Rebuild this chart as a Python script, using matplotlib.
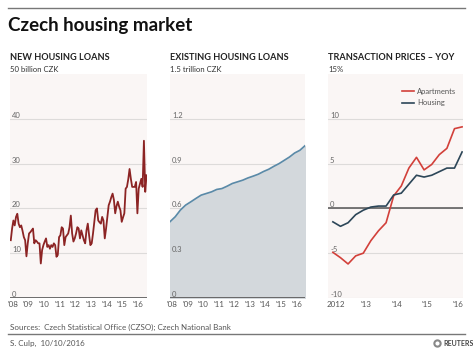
import numpy as np
import matplotlib
matplotlib.use("Agg")
import matplotlib.pyplot as plt
from matplotlib.lines import Line2D
from matplotlib.transforms import blended_transform_factory

plt.rcParams['font.family'] = ['Lato', 'DejaVu Sans']

# New housing loans, monthly Jan 2008 - Sep 2016 (billion CZK)
new_loans = [
    12.9, 15.5, 17.3, 16.2, 18.1, 18.8, 16.6, 15.8, 16.2, 15.0, 13.6, 12.9,
    9.3, 12.2, 14.4, 14.7, 15.1, 15.5, 12.2, 12.9, 12.6, 12.2, 12.2, 7.7,
    10.7, 11.8, 12.6, 13.3, 11.4, 11.8, 11.0, 11.8, 11.4, 12.2, 11.8, 9.2,
    9.6, 13.6, 14.0, 15.8, 15.5, 11.8, 13.6, 14.0, 14.4, 15.8, 18.4, 14.4,
    12.6, 13.3, 14.4, 15.8, 15.5, 13.3, 15.1, 14.0, 12.9, 12.2, 15.1, 16.6,
    14.0, 11.8, 12.2, 14.4, 17.0, 19.6, 20.0, 17.3, 16.9, 16.6, 18.1, 17.3,
    13.3, 15.5, 18.1, 20.7, 21.5, 22.5, 23.3, 21.9, 18.9, 20.5, 21.5, 20.4,
    19.6, 17.0, 18.0, 18.9, 24.4, 24.8, 26.5, 28.8, 26.6, 24.8, 24.8, 24.8,
    25.9, 18.9, 24.4, 25.5, 26.6, 24.8, 35.1, 23.7, 27.4,
]
new_years = 2008 + np.arange(len(new_loans)) / 12

# Existing housing loans, every 4 months from Jan 2008 (trillion CZK)
existing_loans = [
    0.511, 0.544, 0.589, 0.622, 0.644, 0.667, 0.689, 0.700, 0.711, 0.727,
    0.733, 0.749, 0.767, 0.778, 0.789, 0.804, 0.816, 0.829, 0.847, 0.862,
    0.882, 0.900, 0.922, 0.944, 0.971, 0.989, 1.020,
]
existing_years = 2008 + np.arange(len(existing_loans)) / 3

# Transaction prices, y/y %, quarterly from Q1 2012
apartments = [-4.9, -5.5, -6.2, -5.3, -5.0, -3.6, -2.5, -1.6, 1.4, 2.5,
              4.5, 5.7, 4.3, 4.9, 6.0, 6.7, 8.9, 9.1]
housing = [-1.5, -2.0, -1.6, -0.7, -0.2, 0.15, 0.26, 0.26, 1.5, 1.7,
           2.7, 3.7, 3.5, 3.7, 4.1, 4.5, 4.5, 6.3]
price_years = 2012 + np.arange(len(apartments)) / 4

year_labels = ["'08", "'09", "'10", "'11", "'12", "'13", "'14", "'15", "'16"]
price_labels = ["2012", "'13", "'14", "'15", "'16"]

BG = '#faf6f5'
GRID = '#dddbda'
TXT = '#666666'

W, H = 473, 355
fig = plt.figure(figsize=(W / 100, H / 100), dpi=100)


def px(x, y):
    return x / W, 1 - y / H


def setup(ax, ticks, labels):
    ax.set_facecolor(BG)
    for s in ax.spines.values():
        s.set_visible(False)
    ax.set_yticks([])
    tr = blended_transform_factory(ax.transAxes, ax.transData)
    for t, lab in zip(ticks, labels):
        ax.axhline(t, color=GRID, lw=0.8, zorder=1)
        ax.text(0.015, t, lab, transform=tr, fontsize=5.5, color=TXT,
                va='bottom', ha='left', zorder=5)
    ax.tick_params(axis='x', length=0, labelsize=5.8, labelcolor='#555555', pad=2)


# panel 1
ax1 = fig.add_axes([10 / W, 1 - 298 / H, 137 / W, 224 / H])
setup(ax1, [0, 10, 20, 30, 40], ['0', '10', '20', '30', '40'])
ax1.plot(new_years, new_loans, color='#8c2424', lw=1.3, zorder=3)
ax1.set_ylim(0, 50)
ax1.set_xlim(2007.95, new_years[-1] + 0.03)
ax1.axhline(0, color='#555555', lw=1.2, zorder=4)
ax1.set_xticks(np.arange(2008, 2017) + 0.12)
ax1.set_xticklabels(year_labels)

# panel 2
ax2 = fig.add_axes([170 / W, 1 - 298 / H, 135 / W, 224 / H])
setup(ax2, [0, 0.3, 0.6, 0.9, 1.2], ['0', '0.3', '0.6', '0.9', '1.2'])
ax2.fill_between(existing_years, existing_loans, color='#d3d8dc', zorder=2)
ax2.plot(existing_years, existing_loans, color='#5a8aa8', lw=1.2, zorder=3)
ax2.set_ylim(0, 1.5)
ax2.set_xlim(2008, existing_years[-1])
ax2.axhline(0, color='#555555', lw=1.2, zorder=4)
ax2.set_xticks(np.arange(2008, 2017) + 0.12)
ax2.set_xticklabels(year_labels)

# panel 3
ax3 = fig.add_axes([328 / W, 1 - 298 / H, 135 / W, 224 / H])
setup(ax3, [-10, -5, 0, 5, 10], ['-10', '-5', '0', '5', '10'])
ax3.plot(price_years, apartments, color='#d2403a', lw=1.2, zorder=3, label='Apartments')
ax3.plot(price_years, housing, color='#2c4658', lw=1.2, zorder=3, label='Housing')
ax3.axhline(0, color='#606060', lw=1.2, zorder=2)
ax3.set_ylim(-10, 15)
ax3.set_xlim(2011.84, 2016.28)
ax3.set_xticks(np.arange(2012, 2017) + 0.1)
ax3.set_xticklabels(price_labels)
leg = ax3.legend(loc='upper right', frameon=False, fontsize=5.5, handlelength=1.6,
                 handletextpad=0.4, labelspacing=0.6, bbox_to_anchor=(1.0, 0.97))
for t in leg.get_texts():
    t.set_color('#555555')

# headers
heads = [(10, 'NEW HOUSING LOANS', '50 billion CZK'),
         (170, 'EXISTING HOUSING LOANS', '1.5 trillion CZK'),
         (328, 'TRANSACTION PRICES \u2013 YOY', '15%')]
for x, h, sub in heads:
    fig.text(*px(x, 58), h, fontsize=6.6, fontweight='bold', color='#222222', va='center')
    fig.text(*px(x, 69), sub, fontsize=5.6, color='#333333', va='center')

# title and rules
fig.add_artist(Line2D([8 / W, 465 / W], [1 - 8 / H] * 2, color='#777777', lw=1))
fig.text(*px(8, 26), 'Czech housing market', fontsize=13.5, fontweight='bold',
         color='#111111', va='center')

fig.text(*px(10, 327), 'Sources:  Czech Statistical Office (CZSO); Czech National Bank',
         fontsize=5.8, color='#555555', va='center')
fig.add_artist(Line2D([8 / W, 465 / W], [1 - 334 / H] * 2, color='#777777', lw=1))
fig.text(*px(10, 343), 'S. Culp,  10/10/2016', fontsize=5.8, color='#555555', va='center')
fig.add_artist(Line2D([437 / W], [1 - 343 / H], marker='o', markersize=4.5,
                      markerfacecolor='white', markeredgecolor='#888888', mew=1.5))
fig.text(*px(443, 343), 'REUTERS', fontsize=5, fontweight='bold', color='#444444', va='center')

fig.savefig('out.png', dpi=100, facecolor='white')
